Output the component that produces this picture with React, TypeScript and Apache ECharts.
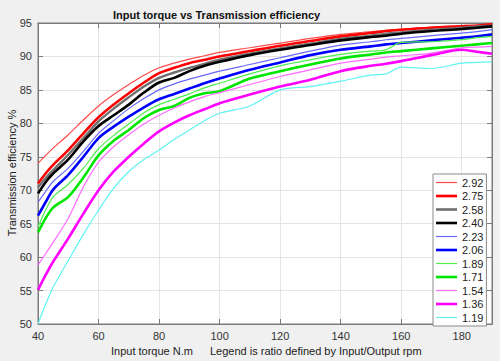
import React, { useEffect, useRef } from "react";
import * as echarts from "echarts";

const xTorque = [40, 42.5, 45, 50, 55, 60, 65, 70, 75, 80, 85, 90, 95, 100, 110, 120, 130, 140, 150, 155, 160, 170, 180, 185, 190];

const ratioLabels = ["2.92", "2.75", "2.58", "2.40", "2.23", "2.06", "1.89", "1.71", "1.54", "1.36", "1.19"];

const eff292 = [74.0, 75.2, 76.3, 78.3, 80.5, 82.6, 84.3, 85.8, 87.2, 88.3, 89.0, 89.6, 90.1, 90.6, 91.3, 92.0, 92.7, 93.3, 93.7, 93.9, 94.1, 94.4, 94.6, 94.7, 94.8];
const eff275 = [71.0, 72.5, 73.8, 76.0, 78.5, 80.9, 82.8, 84.5, 86.1, 87.5, 88.3, 89.0, 89.5, 90.0, 90.8, 91.6, 92.3, 93.0, 93.5, 93.8, 94.0, 94.3, 94.5, 94.6, 94.8];
const eff258 = [70.4, 71.8, 73.0, 75.3, 77.8, 80.3, 82.2, 83.9, 85.5, 86.8, 87.6, 88.3, 88.9, 89.5, 90.4, 91.2, 91.9, 92.6, 93.1, 93.4, 93.6, 94.0, 94.3, 94.5, 94.6];
const eff240 = [69.5, 71.2, 72.5, 74.6, 77.3, 79.6, 81.2, 82.8, 84.6, 86.1, 86.8, 87.8, 88.6, 89.2, 90.2, 91.0, 91.7, 92.4, 92.9, 93.1, 93.4, 93.8, 94.1, 94.3, 94.5];
const eff223 = [68.2, 69.8, 71.3, 73.3, 75.8, 78.5, 80.4, 82.2, 83.7, 85.0, 85.9, 86.6, 87.2, 87.8, 88.8, 89.8, 90.8, 91.7, 92.2, 92.5, 92.7, 93.1, 93.5, 93.7, 94.0];
const eff206 = [66.2, 68.2, 70.1, 72.3, 75.0, 77.8, 79.5, 81.0, 82.4, 83.6, 84.4, 85.2, 86.0, 86.7, 88.0, 89.1, 90.2, 91.0, 91.5, 91.8, 92.0, 92.4, 92.8, 93.0, 93.3];
const eff189 = [64.5, 67.0, 69.0, 70.9, 73.3, 76.2, 78.2, 79.9, 81.6, 82.8, 83.6, 84.4, 85.3, 86.0, 87.4, 88.6, 89.5, 90.3, 90.8, 91.0, 92.1, 92.2, 92.5, 92.8, 93.0];
const eff171 = [63.7, 65.8, 67.4, 69.0, 71.9, 75.2, 77.4, 79.0, 80.8, 82.0, 82.6, 83.8, 84.5, 84.8, 86.7, 87.8, 88.8, 89.7, 90.3, 90.6, 90.8, 91.2, 91.6, 91.8, 92.0];
const eff154 = [58.8, 60.5, 62.2, 65.8, 70.5, 74.2, 76.5, 78.3, 79.9, 81.2, 82.3, 83.2, 84.0, 84.6, 85.8, 87.0, 88.0, 89.0, 89.6, 89.9, 90.1, 90.5, 91.3, 91.4, 91.5];
const eff136 = [55.1, 57.3, 59.3, 62.8, 66.5, 70.0, 72.8, 75.0, 77.0, 78.8, 80.1, 81.2, 82.1, 83.0, 84.3, 85.5, 86.5, 87.8, 88.6, 88.9, 89.3, 90.2, 91.0, 90.7, 90.4];
const eff119 = [50.0, 52.9, 55.5, 59.5, 63.4, 67.0, 70.3, 72.8, 74.6, 76.0, 77.6, 79.0, 80.4, 81.5, 82.6, 85.0, 85.5, 86.3, 87.2, 87.4, 88.4, 88.2, 89.0, 89.1, 89.2];

const lineColors = ["#ff4a4a", "#ff0000", "#707070", "#000000", "#6a6aff", "#0000ff", "#4dee4d", "#00e600", "#ff6cff", "#ff00ff", "#5ff3f3"];
const lineWidths = [1.2, 2.6, 2.4, 2.6, 1.2, 2.6, 1.2, 2.6, 1.2, 2.6, 1.2];

export default function App() {
  const ref = useRef<HTMLDivElement>(null);
  useEffect(() => {
    document.body.style.margin = "0";
    const chart = echarts.init(ref.current!, null, { renderer: "svg" });
    const font = "'Liberation Sans', Arial, Helvetica, sans-serif";
    const axisColor = "#7a7a7a";
    const allData = [eff292, eff275, eff258, eff240, eff223, eff206, eff189, eff171, eff154, eff136, eff119];
    const series = allData.map((vals, i) => ({
      name: ratioLabels[i],
      type: "line",
      symbol: "none",
      smooth: 0.3,
      data: xTorque.map((x, j) => [x, vals[j]]),
      lineStyle: { color: lineColors[i], width: lineWidths[i] },
      itemStyle: { color: lineColors[i] },
      xAxisIndex: 0,
      yAxisIndex: 0,
    }));
    const legendData = ratioLabels.map((name, i) => ({
      name,
      icon: lineWidths[i] > 2 ? "path://M0,0H21V2.6H0Z" : "path://M0,0H21V1.2H0Z",
      itemStyle: { color: lineColors[i], borderWidth: 0 },
    }));
    const axisBase = {
      axisLine: { show: true, onZero: false, lineStyle: { color: axisColor, width: 1 } },
      axisTick: { show: true, inside: true, length: 5, lineStyle: { color: axisColor } },
    };
    chart.setOption({
      animation: false,
      backgroundColor: "#f0f0f0",
      textStyle: { fontFamily: font },
      title: {
        text: "Input torque vs Transmission efficiency",
        left: 113,
        top: 9,
        padding: 0,
        textStyle: { fontSize: 11, fontWeight: "bold", color: "#111", fontFamily: font },
      },
      grid: {
        left: 38,
        right: 8,
        top: 23,
        bottom: 37,
        show: true,
        backgroundColor: "#ffffff",
        borderColor: axisColor,
        borderWidth: 1,
      },
      xAxis: [
        {
          type: "value",
          min: 40,
          max: 190,
          interval: 20,
          position: "bottom",
          ...axisBase,
          axisLabel: { color: "#333", fontSize: 11, fontFamily: font, margin: 6, showMaxLabel: false },
          splitLine: { show: true, lineStyle: { color: "#e4e4e4", width: 1 } },
        },
        {
          type: "value",
          min: 40,
          max: 190,
          interval: 20,
          position: "top",
          ...axisBase,
          axisLabel: { show: false },
          splitLine: { show: false },
        },
      ],
      yAxis: [
        {
          type: "value",
          min: 50,
          max: 95,
          interval: 5,
          position: "left",
          ...axisBase,
          axisLabel: { color: "#333", fontSize: 11, fontFamily: font, margin: 6 },
          splitLine: { show: true, lineStyle: { color: "#e4e4e4", width: 1 } },
        },
        {
          type: "value",
          min: 50,
          max: 95,
          interval: 5,
          position: "right",
          ...axisBase,
          axisLabel: { show: false },
          splitLine: { show: false },
        },
      ],
      legend: {
        orient: "vertical",
        left: 433,
        top: 174,
        padding: [3, 3, 3, 3],
        itemWidth: 21,
        itemHeight: 10,
        itemGap: 2.5,
        symbolKeepAspect: true,
        backgroundColor: "#ffffff",
        borderColor: "#8a8a8a",
        borderWidth: 1,
        borderRadius: 0,
        selectedMode: false,
        textStyle: { fontSize: 11, color: "#222", fontFamily: font, lineHeight: 10 },
        data: legendData,
      },
      graphic: [
        {
          type: "text",
          x: 12,
          y: 173,
          rotation: Math.PI / 2,
          style: {
            text: "Transmission efficiency %",
            fill: "#222",
            font: `11px ${font}`,
            textAlign: "center",
            textVerticalAlign: "middle",
          },
        },
        {
          type: "text",
          x: 111,
          y: 351,
          style: {
            text: "Input torque N.m",
            fill: "#222",
            font: `11px ${font}`,
            textAlign: "left",
            textVerticalAlign: "middle",
          },
        },
        {
          type: "text",
          x: 210,
          y: 351,
          style: {
            text: "Legend is ratio defined by Input/Output rpm",
            fill: "#222",
            font: `11px ${font}`,
            textAlign: "left",
            textVerticalAlign: "middle",
          },
        },
      ],
      series,
    });
    return () => chart.dispose();
  }, []);
  return <div ref={ref} style={{ width: 500, height: 361 }} />;
}
